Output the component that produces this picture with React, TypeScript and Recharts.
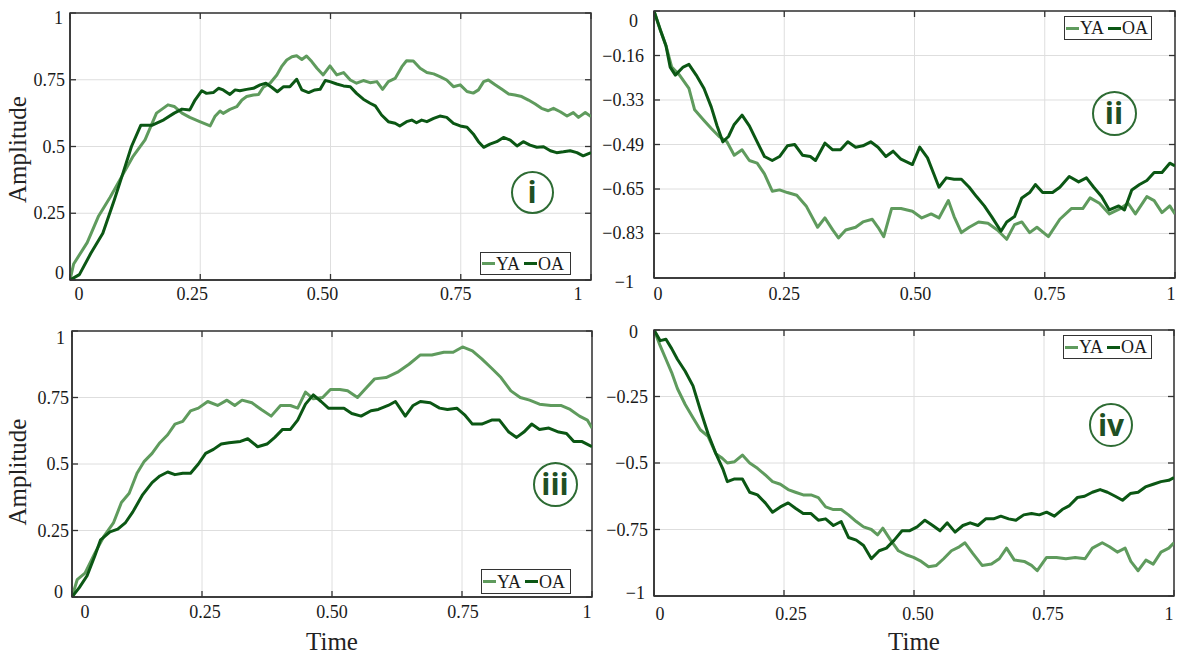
import React from 'react';
import { LineChart, Line, XAxis, YAxis, CartesianGrid, ReferenceArea } from 'recharts';

// ---------- data ----------
const seriesNames = ['YA', 'OA'];
const seriesColors = ['#5f9b5d', '#0b5714'];
const panelTags = ['i', 'ii', 'iii', 'iv'];

const xTicks = [0, 0.25, 0.5, 0.75, 1];
const xTickLabels = ['0', '0.25', '0.50', '0.75', '1'];

const posYTicks = [0, 0.25, 0.5, 0.75, 1];
const posYLabels = ['0', '0.25', '0.5', '0.75', '1'];
const p2YTicks = [-1, -0.8333, -0.6667, -0.5, -0.3333, -0.1667, 0];
const p2YLabels = ['−1', '−0.83', '−0.65', '−0.49', '−0.33', '−0.16', '0'];
const p4YTicks = [-1, -0.75, -0.5, -0.25, 0];
const p4YLabels = ['−1', '−0.75', '−0.5', '−0.25', '0'];

const p1YA: [number, number][] = [
  [0, 0], [0.007, 0.06], [0.033, 0.14], [0.055, 0.24], [0.077, 0.31], [0.1, 0.39], [0.12, 0.46],
  [0.144, 0.525], [0.166, 0.625], [0.188, 0.656], [0.2, 0.65], [0.215, 0.625], [0.23, 0.609],
  [0.249, 0.593], [0.269, 0.577], [0.278, 0.612], [0.288, 0.633], [0.294, 0.624], [0.307, 0.639],
  [0.32, 0.649], [0.33, 0.674], [0.339, 0.687], [0.352, 0.693], [0.362, 0.695], [0.371, 0.722],
  [0.384, 0.737], [0.397, 0.768], [0.406, 0.799], [0.416, 0.824], [0.426, 0.836], [0.435, 0.84],
  [0.445, 0.826], [0.454, 0.839], [0.464, 0.818], [0.474, 0.793], [0.486, 0.768], [0.499, 0.802],
  [0.512, 0.768], [0.525, 0.777], [0.538, 0.749], [0.55, 0.737], [0.563, 0.747], [0.576, 0.739],
  [0.589, 0.743], [0.6, 0.714], [0.611, 0.743], [0.624, 0.755], [0.637, 0.799], [0.646, 0.821],
  [0.659, 0.82], [0.672, 0.793], [0.685, 0.777], [0.698, 0.772], [0.71, 0.762], [0.723, 0.749],
  [0.736, 0.724], [0.749, 0.731], [0.762, 0.706], [0.774, 0.7], [0.784, 0.712], [0.794, 0.743],
  [0.803, 0.749], [0.816, 0.731], [0.829, 0.714], [0.842, 0.697], [0.854, 0.693], [0.867, 0.687],
  [0.88, 0.674], [0.893, 0.659], [0.905, 0.643], [0.918, 0.634], [0.928, 0.643], [0.941, 0.63],
  [0.954, 0.614], [0.966, 0.627], [0.976, 0.609], [0.989, 0.627], [1, 0.612],
];
const p1OA: [number, number][] = [
  [0, 0], [0.018, 0.02], [0.04, 0.1], [0.063, 0.175], [0.085, 0.3], [0.1, 0.39], [0.118, 0.5],
  [0.136, 0.58], [0.158, 0.58], [0.18, 0.6], [0.2, 0.625], [0.215, 0.64], [0.23, 0.637],
  [0.24, 0.674], [0.253, 0.709], [0.262, 0.699], [0.275, 0.702], [0.285, 0.718], [0.294, 0.712],
  [0.307, 0.695], [0.317, 0.712], [0.326, 0.709], [0.339, 0.714], [0.352, 0.718], [0.365, 0.731],
  [0.376, 0.737], [0.387, 0.722], [0.398, 0.705], [0.41, 0.724], [0.422, 0.724], [0.435, 0.752],
  [0.445, 0.712], [0.458, 0.702], [0.47, 0.712], [0.48, 0.714], [0.49, 0.747], [0.499, 0.743],
  [0.512, 0.734], [0.525, 0.727], [0.538, 0.724], [0.55, 0.699], [0.563, 0.677], [0.576, 0.662],
  [0.586, 0.652], [0.598, 0.618], [0.611, 0.593], [0.624, 0.587], [0.633, 0.577], [0.646, 0.593],
  [0.656, 0.599], [0.665, 0.589], [0.675, 0.599], [0.685, 0.593], [0.698, 0.605], [0.71, 0.614],
  [0.723, 0.609], [0.736, 0.587], [0.749, 0.577], [0.762, 0.572], [0.774, 0.547], [0.784, 0.518],
  [0.794, 0.497], [0.806, 0.509], [0.819, 0.518], [0.832, 0.534], [0.845, 0.524], [0.858, 0.502],
  [0.87, 0.518], [0.883, 0.505], [0.896, 0.497], [0.909, 0.499], [0.922, 0.484], [0.934, 0.477],
  [0.947, 0.48], [0.96, 0.484], [0.973, 0.477], [0.985, 0.465], [1, 0.477],
];

const p2YA: [number, number][] = [
  [0, 0], [0.012, -0.07], [0.023, -0.13], [0.034, -0.21], [0.049, -0.24], [0.067, -0.29], [0.078, -0.37],
  [0.096, -0.41], [0.11, -0.44], [0.125, -0.47], [0.14, -0.49], [0.154, -0.54], [0.169, -0.52],
  [0.183, -0.56], [0.198, -0.57], [0.212, -0.61], [0.227, -0.675], [0.241, -0.67], [0.256, -0.68],
  [0.274, -0.69], [0.292, -0.73], [0.314, -0.81], [0.328, -0.775], [0.343, -0.82], [0.354, -0.85],
  [0.368, -0.82], [0.387, -0.81], [0.401, -0.79], [0.419, -0.78], [0.43, -0.81], [0.441, -0.845],
  [0.456, -0.74], [0.474, -0.74], [0.496, -0.75], [0.514, -0.775], [0.532, -0.76], [0.547, -0.775],
  [0.565, -0.71], [0.576, -0.77], [0.59, -0.83], [0.605, -0.81], [0.623, -0.79], [0.641, -0.795],
  [0.659, -0.82], [0.677, -0.855], [0.692, -0.8], [0.706, -0.79], [0.721, -0.83], [0.735, -0.81],
  [0.757, -0.845], [0.779, -0.78], [0.801, -0.74], [0.823, -0.74], [0.837, -0.7], [0.855, -0.72],
  [0.874, -0.76], [0.895, -0.74], [0.91, -0.72], [0.924, -0.76], [0.946, -0.695], [0.96, -0.71],
  [0.975, -0.755], [0.99, -0.73], [1, -0.76],
];
const p2OA: [number, number][] = [
  [0, 0], [0.012, -0.07], [0.023, -0.13], [0.031, -0.21], [0.041, -0.24], [0.056, -0.21], [0.067, -0.2],
  [0.081, -0.24], [0.096, -0.29], [0.11, -0.36], [0.121, -0.43], [0.132, -0.49], [0.143, -0.47],
  [0.154, -0.425], [0.169, -0.39], [0.183, -0.43], [0.198, -0.49], [0.212, -0.545], [0.227, -0.56],
  [0.241, -0.545], [0.256, -0.505], [0.27, -0.5], [0.285, -0.54], [0.3, -0.545], [0.31, -0.56],
  [0.328, -0.495], [0.343, -0.52], [0.358, -0.52], [0.372, -0.49], [0.387, -0.51], [0.401, -0.505],
  [0.416, -0.49], [0.43, -0.51], [0.445, -0.545], [0.459, -0.525], [0.474, -0.555], [0.496, -0.575],
  [0.51, -0.51], [0.525, -0.55], [0.536, -0.605], [0.547, -0.66], [0.561, -0.625], [0.576, -0.63],
  [0.59, -0.63], [0.605, -0.66], [0.619, -0.695], [0.634, -0.73], [0.648, -0.77], [0.666, -0.825],
  [0.677, -0.79], [0.692, -0.77], [0.706, -0.7], [0.721, -0.68], [0.732, -0.65], [0.746, -0.68],
  [0.765, -0.68], [0.779, -0.66], [0.797, -0.62], [0.815, -0.64], [0.83, -0.625], [0.844, -0.66],
  [0.859, -0.695], [0.874, -0.745], [0.892, -0.73], [0.903, -0.745], [0.917, -0.67], [0.932, -0.65],
  [0.946, -0.635], [0.96, -0.605], [0.975, -0.605], [0.99, -0.57], [1, -0.58],
];

const p3YA: [number, number][] = [
  [0, 0], [0.01, 0.065], [0.025, 0.09], [0.044, 0.165], [0.062, 0.23], [0.08, 0.28], [0.095, 0.355],
  [0.11, 0.39], [0.125, 0.465], [0.139, 0.51], [0.154, 0.54], [0.169, 0.58], [0.184, 0.61],
  [0.198, 0.65], [0.213, 0.66], [0.228, 0.7], [0.243, 0.71], [0.261, 0.735], [0.28, 0.72],
  [0.298, 0.74], [0.313, 0.72], [0.327, 0.74], [0.346, 0.73], [0.364, 0.705], [0.383, 0.68],
  [0.401, 0.72], [0.42, 0.72], [0.434, 0.71], [0.449, 0.77], [0.464, 0.745], [0.482, 0.75],
  [0.497, 0.78], [0.515, 0.78], [0.53, 0.775], [0.549, 0.75], [0.563, 0.78], [0.582, 0.82],
  [0.604, 0.825], [0.626, 0.845], [0.648, 0.875], [0.67, 0.91], [0.692, 0.91], [0.715, 0.92],
  [0.733, 0.92], [0.751, 0.94], [0.77, 0.925], [0.788, 0.895], [0.807, 0.86], [0.825, 0.825],
  [0.844, 0.775], [0.862, 0.75], [0.88, 0.74], [0.899, 0.725], [0.921, 0.72], [0.94, 0.72],
  [0.958, 0.705], [0.976, 0.68], [0.991, 0.665], [1, 0.635],
];
const p3OA: [number, number][] = [
  [0, 0], [0.014, 0.035], [0.029, 0.08], [0.044, 0.155], [0.055, 0.215], [0.073, 0.245], [0.088, 0.255],
  [0.103, 0.28], [0.117, 0.32], [0.136, 0.385], [0.154, 0.43], [0.169, 0.455], [0.184, 0.47],
  [0.198, 0.46], [0.213, 0.465], [0.228, 0.465], [0.243, 0.5], [0.257, 0.54], [0.272, 0.555],
  [0.287, 0.575], [0.302, 0.58], [0.324, 0.585], [0.338, 0.595], [0.357, 0.565], [0.375, 0.575],
  [0.39, 0.6], [0.405, 0.63], [0.42, 0.63], [0.434, 0.665], [0.449, 0.725], [0.464, 0.76],
  [0.479, 0.735], [0.493, 0.71], [0.508, 0.71], [0.523, 0.71], [0.538, 0.69], [0.556, 0.68],
  [0.575, 0.7], [0.589, 0.705], [0.608, 0.72], [0.622, 0.735], [0.641, 0.68], [0.656, 0.72],
  [0.67, 0.735], [0.689, 0.73], [0.707, 0.71], [0.722, 0.705], [0.74, 0.71], [0.755, 0.685],
  [0.77, 0.65], [0.788, 0.65], [0.807, 0.665], [0.822, 0.665], [0.84, 0.62], [0.855, 0.6],
  [0.869, 0.62], [0.884, 0.65], [0.899, 0.63], [0.917, 0.635], [0.936, 0.62], [0.951, 0.615],
  [0.965, 0.585], [0.98, 0.585], [1, 0.565],
];

const p4YA: [number, number][] = [
  [0, 0], [0.012, -0.06], [0.023, -0.11], [0.034, -0.16], [0.045, -0.22], [0.06, -0.28], [0.075, -0.33],
  [0.089, -0.375], [0.104, -0.4], [0.119, -0.465], [0.13, -0.48], [0.141, -0.5], [0.155, -0.495],
  [0.17, -0.47], [0.184, -0.5], [0.199, -0.52], [0.214, -0.545], [0.228, -0.57], [0.243, -0.58],
  [0.258, -0.6], [0.272, -0.61], [0.287, -0.62], [0.302, -0.62], [0.316, -0.63], [0.33, -0.665],
  [0.345, -0.675], [0.36, -0.675], [0.374, -0.695], [0.389, -0.72], [0.403, -0.74], [0.418, -0.75],
  [0.43, -0.77], [0.44, -0.745], [0.455, -0.79], [0.47, -0.83], [0.485, -0.845], [0.499, -0.855],
  [0.514, -0.87], [0.528, -0.89], [0.543, -0.885], [0.557, -0.86], [0.572, -0.83], [0.587, -0.815],
  [0.598, -0.8], [0.613, -0.84], [0.631, -0.885], [0.649, -0.88], [0.664, -0.86], [0.678, -0.82],
  [0.693, -0.865], [0.712, -0.87], [0.726, -0.885], [0.737, -0.905], [0.755, -0.855], [0.774, -0.855],
  [0.792, -0.86], [0.81, -0.855], [0.829, -0.86], [0.843, -0.82], [0.862, -0.8], [0.876, -0.815],
  [0.891, -0.835], [0.906, -0.82], [0.917, -0.87], [0.931, -0.905], [0.946, -0.865], [0.96, -0.88],
  [0.975, -0.835], [0.99, -0.82], [1, -0.8],
];
const p4OA: [number, number][] = [
  [0, 0], [0.012, -0.04], [0.023, -0.035], [0.034, -0.07], [0.045, -0.11], [0.06, -0.155], [0.075, -0.21],
  [0.089, -0.3], [0.104, -0.39], [0.119, -0.465], [0.133, -0.525], [0.141, -0.57], [0.155, -0.56],
  [0.17, -0.56], [0.184, -0.61], [0.199, -0.62], [0.214, -0.65], [0.228, -0.685], [0.243, -0.665],
  [0.258, -0.65], [0.272, -0.67], [0.287, -0.69], [0.302, -0.69], [0.316, -0.715], [0.33, -0.71],
  [0.345, -0.735], [0.36, -0.72], [0.374, -0.78], [0.389, -0.79], [0.403, -0.81], [0.418, -0.86],
  [0.433, -0.83], [0.447, -0.82], [0.462, -0.79], [0.477, -0.755], [0.491, -0.755], [0.506, -0.74],
  [0.521, -0.715], [0.536, -0.735], [0.55, -0.755], [0.564, -0.725], [0.579, -0.76], [0.594, -0.735],
  [0.608, -0.725], [0.623, -0.735], [0.638, -0.71], [0.653, -0.71], [0.667, -0.7], [0.682, -0.71],
  [0.696, -0.715], [0.711, -0.695], [0.726, -0.69], [0.741, -0.695], [0.755, -0.685], [0.77, -0.7],
  [0.785, -0.675], [0.799, -0.66], [0.814, -0.63], [0.828, -0.625], [0.843, -0.61], [0.858, -0.6],
  [0.872, -0.61], [0.887, -0.625], [0.901, -0.64], [0.916, -0.615], [0.931, -0.61], [0.945, -0.59],
  [0.96, -0.58], [0.975, -0.57], [0.99, -0.565], [1, -0.555],
];

// ---------- styling / layout ----------
const FONT = "'Liberation Serif', 'Times New Roman', serif";
const AXIS = '#333333';
const GRID = '#dedede';
const TAG_STROKE = '#2d6b33';
const TAG_TEXT = '#1f4f24';

type Box = { left: number; top: number; w: number; h: number };
type Plot = { l: number; t: number; r: number; b: number };
type PanelCfg = {
  box: Box;
  plot: Plot;
  ya: [number, number][];
  oa: [number, number][];
  yTicks: number[];
  yLabels: string[];
  yDomain: [number, number];
  xDx: number[];
  xDy: number;
  yGap: number;
  yEdgeTop: { dy: number; gap: number };
  yEdgeBottom: { dy: number; gap: number };
  amp: boolean;
  ampDy: number;
  time: boolean;
  legend: { left: number; top: number; w: number; h: number };
  tag: { cx: number; cy: number; d: number };
};

const panels: PanelCfg[] = [
  {
    box: { left: 0, top: 0, w: 600, h: 312 },
    plot: { l: 70, t: 13, r: 591, b: 280 },
    ya: p1YA, oa: p1OA, yTicks: posYTicks, yLabels: posYLabels, yDomain: [0, 1],
    xDx: [9, -8, -8, -5, -13], xDy: 14, yGap: 5,
    yEdgeTop: { dy: 5, gap: 7 }, yEdgeBottom: { dy: -7, gap: 6 },
    amp: true, ampDy: 3, time: false,
    legend: { left: 480, top: 252, w: 91, h: 23 },
    tag: { cx: 532, cy: 192, d: 43 },
  },
  {
    box: { left: 600, top: 0, w: 583, h: 312 },
    plot: { l: 654, t: 11, r: 1175, b: 278 },
    ya: p2YA, oa: p2OA, yTicks: p2YTicks, yLabels: p2YLabels, yDomain: [-1, 0],
    xDx: [4, 0, 1, 5, -4], xDy: 16, yGap: 10,
    yEdgeTop: { dy: 10, gap: 16 }, yEdgeBottom: { dy: 4, gap: 20 },
    amp: false, ampDy: 0, time: false,
    legend: { left: 1064, top: 16, w: 88, h: 24 },
    tag: { cx: 1114, cy: 113, d: 45 },
  },
  {
    box: { left: 0, top: 312, w: 600, h: 343 },
    plot: { l: 72, t: 331, r: 592, b: 597 },
    ya: p3YA, oa: p3OA, yTicks: posYTicks, yLabels: posYLabels, yDomain: [0, 1],
    xDx: [13, 3, 0, 1, -5], xDy: 15, yGap: 3,
    yEdgeTop: { dy: 7, gap: 7 }, yEdgeBottom: { dy: -5, gap: 9 },
    amp: true, ampDy: 8, time: true,
    legend: { left: 481, top: 569, w: 90, h: 25 },
    tag: { cx: 555, cy: 484, d: 45 },
  },
  {
    box: { left: 600, top: 312, w: 583, h: 343 },
    plot: { l: 654, t: 330, r: 1174, b: 596 },
    ya: p4YA, oa: p4OA, yTicks: p4YTicks, yLabels: p4YLabels, yDomain: [-1, 0],
    xDx: [6, 7, 4, 4, -5], xDy: 18, yGap: 6,
    yEdgeTop: { dy: 2, gap: 16 }, yEdgeBottom: { dy: -3, gap: 9 },
    amp: false, ampDy: 0, time: true,
    legend: { left: 1063, top: 335, w: 89, h: 24 },
    tag: { cx: 1111, cy: 425, d: 44 },
  },
];

const toRows = (pts: [number, number][]) => pts.map(([t, v]) => ({ t, v }));

const nearestIndex = (arr: number[], v: number) => {
  let best = 0;
  for (let i = 1; i < arr.length; i++) if (Math.abs(arr[i] - v) < Math.abs(arr[best] - v)) best = i;
  return best;
};

function Panel({ cfg, idx }: { cfg: PanelCfg; idx: number }) {
  const { box, plot } = cfg;
  const mTop = plot.t - box.top;
  const mRight = box.left + box.w - plot.r;
  const yW = plot.l - box.left;
  const xH = box.top + box.h - plot.b;
  const plotTopLocal = mTop;
  const plotRightLocal = box.w - mRight;

  const XTick = (p: any) => {
    const { x, y, payload } = p;
    const i = nearestIndex(xTicks, payload.value);
    return (
      <g>
        <line x1={x} x2={x} y1={y} y2={y - 6} stroke={AXIS} strokeWidth={1.3} />
        <line x1={x} x2={x} y1={plotTopLocal} y2={plotTopLocal + 6} stroke={AXIS} strokeWidth={1.3} />
        <text x={x + cfg.xDx[i]} y={y + cfg.xDy} textAnchor="middle" dominantBaseline="central"
          fontFamily={FONT} fontSize={18} fill="#1a1a1a">{xTickLabels[i]}</text>
      </g>
    );
  };

  const YTick = (p: any) => {
    const { x, y, payload } = p;
    const i = nearestIndex(cfg.yTicks, payload.value);
    const isTop = i === cfg.yTicks.length - 1;
    const isBottom = i === 0;
    const dy = isTop ? cfg.yEdgeTop.dy : isBottom ? cfg.yEdgeBottom.dy : 0;
    const gap = isTop ? cfg.yEdgeTop.gap : isBottom ? cfg.yEdgeBottom.gap : cfg.yGap;
    return (
      <g>
        <line x1={x} x2={x + 6} y1={y} y2={y} stroke={AXIS} strokeWidth={1.3} />
        <line x1={plotRightLocal} x2={plotRightLocal - 6} y1={y} y2={y} stroke={AXIS} strokeWidth={1.3} />
        <text x={x - gap} y={y + dy} textAnchor="end" dominantBaseline="central"
          fontFamily={FONT} fontSize={18} fill="#1a1a1a">{cfg.yLabels[i]}</text>
      </g>
    );
  };

  const ampLabel = (props: any) => {
    const vb = props.viewBox || { x: 0, y: mTop, width: yW, height: box.h - mTop - xH };
    const cx = 17;
    const cy = vb.y + vb.height / 2 + cfg.ampDy;
    return (
      <text x={cx} y={cy} transform={`rotate(-90, ${cx}, ${cy})`} textAnchor="middle"
        dominantBaseline="central" fontFamily={FONT} fontSize={25} fill="#222">Amplitude</text>
    );
  };

  const timeLabel = (props: any) => {
    const vb = props.viewBox || { x: yW, y: box.h - xH, width: box.w - yW - mRight, height: xH };
    return (
      <text x={vb.x + vb.width / 2} y={vb.y + vb.height - 5} textAnchor="middle"
        fontFamily={FONT} fontSize={25} fill="#222">Time</text>
    );
  };

  const series = [cfg.ya, cfg.oa];

  return (
    <div style={{ position: 'absolute', left: box.left, top: box.top, width: box.w, height: box.h }}>
      <LineChart width={box.w} height={box.h} margin={{ top: mTop, right: mRight, left: 0, bottom: 0 }}>
        <CartesianGrid stroke={GRID} strokeWidth={1} />
        <XAxis
          type="number"
          dataKey="t"
          domain={[0, 1]}
          ticks={xTicks}
          interval={0}
          allowDataOverflow
          height={xH}
          tickSize={0}
          tickMargin={0}
          tickLine={false}
          axisLine={{ stroke: AXIS, strokeWidth: 1.5 }}
          tick={XTick}
          label={cfg.time ? timeLabel : undefined}
        />
        <YAxis
          type="number"
          domain={cfg.yDomain}
          ticks={cfg.yTicks}
          interval={0}
          allowDataOverflow
          width={yW}
          tickSize={0}
          tickMargin={0}
          tickLine={false}
          axisLine={{ stroke: AXIS, strokeWidth: 1.5 }}
          tick={YTick}
          label={cfg.amp ? ampLabel : undefined}
        />
        {series.map((pts, s) => (
          <Line
            key={seriesNames[s]}
            data={toRows(pts)}
            dataKey="v"
            name={seriesNames[s]}
            type="linear"
            stroke={seriesColors[s]}
            strokeWidth={3}
            dot={false}
            activeDot={false}
            isAnimationActive={false}
            strokeLinejoin="round"
          />
        ))}
        <ReferenceArea x1={0} x2={1} y1={cfg.yDomain[0]} y2={cfg.yDomain[1]} fill="none"
          fillOpacity={0} stroke={AXIS} strokeWidth={1.5} />
      </LineChart>
      {/* legend */}
      <div
        style={{
          position: 'absolute',
          left: cfg.legend.left - box.left,
          top: cfg.legend.top - box.top,
          width: cfg.legend.w,
          height: cfg.legend.h,
          boxSizing: 'border-box',
          border: `1.5px solid ${AXIS}`,
          background: '#fff',
          display: 'flex',
          alignItems: 'center',
          paddingLeft: 1,
          fontFamily: FONT,
          fontSize: 18,
          color: '#1a1a1a',
          lineHeight: 1,
        }}
      >
        {seriesNames.map((n, s) => (
          <span key={n} style={{ display: 'inline-flex', alignItems: 'center', marginRight: s === 0 ? 4 : 0 }}>
            <span style={{ display: 'inline-block', width: 13, height: 3, background: seriesColors[s], marginRight: 1 }} />
            <span>{n}</span>
          </span>
        ))}
      </div>
      {/* panel tag */}
      <div
        style={{
          position: 'absolute',
          left: cfg.tag.cx - cfg.tag.d / 2 - box.left,
          top: cfg.tag.cy - cfg.tag.d / 2 - box.top,
          width: cfg.tag.d,
          height: cfg.tag.d,
          boxSizing: 'border-box',
          borderRadius: '50%',
          border: `2.5px solid ${TAG_STROKE}`,
          display: 'flex',
          alignItems: 'center',
          justifyContent: 'center',
          fontFamily: "'Open Sans', 'DejaVu Sans', sans-serif",
          fontWeight: 700,
          fontSize: 30,
          color: TAG_TEXT,
          lineHeight: 1,
          background: 'transparent',
        }}
      >
        {panelTags[idx]}
      </div>
    </div>
  );
}

export default function App() {
  return (
    <div style={{ position: 'absolute', left: 0, top: 0, width: 1183, height: 655, background: '#fff', overflow: 'hidden' }}>
      {panels.map((cfg, i) => (
        <Panel key={i} cfg={cfg} idx={i} />
      ))}
    </div>
  );
}
